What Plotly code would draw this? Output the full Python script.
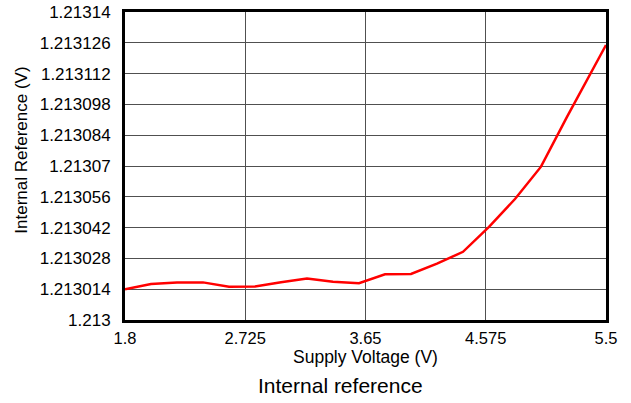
import plotly.graph_objects as go

# datos
supply_v = [1.8, 2.0, 2.2, 2.4, 2.6, 2.8, 3.0, 3.2, 3.4, 3.6, 3.8, 4.0,
            4.2, 4.4, 4.6, 4.8, 5.0, 5.2, 5.5]
int_ref = [1.2130140, 1.2130164, 1.2130171, 1.2130171, 1.2130151, 1.2130152,
           1.2130172, 1.2130189, 1.2130174, 1.2130167, 1.2130208, 1.2130209,
           1.2130256, 1.2130310, 1.2130423, 1.2130550, 1.2130697, 1.2130923,
           1.2131250]

x_ticks = [1.8, 2.725, 3.65, 4.575, 5.5]
x_labels = ["1.8", "2.725", "3.65", "4.575", "5.5"]
y_ticks = [1.213, 1.213014, 1.213028, 1.213042, 1.213056, 1.21307,
           1.213084, 1.213098, 1.213112, 1.213126, 1.21314]
y_labels = ["1.213", "1.213014", "1.213028", "1.213042", "1.213056", "1.21307",
            "1.213084", "1.213098", "1.213112", "1.213126", "1.21314"]

FONT = "Liberation Sans, Arial, sans-serif"

fig = go.Figure()

fig.add_trace(go.Scatter(
    x=supply_v,
    y=int_ref,
    mode="lines",
    line=dict(color="#ff0000", width=2.5),
    showlegend=False,
))

fig.update_layout(
    width=631,
    height=403,
    margin=dict(l=125, r=25, t=12, b=83, autoexpand=False),
    plot_bgcolor="white",
    paper_bgcolor="white",
    font=dict(family=FONT, color="black"),
    xaxis=dict(
        range=[1.8, 5.5],
        tickvals=x_ticks,
        ticktext=x_labels,
        tickfont=dict(size=16.5),
        showgrid=True,
        gridcolor="#505050",
        gridwidth=1.3,
        zeroline=False,
        showline=True,
        linecolor="black",
        linewidth=3,
        mirror=True,
        ticks="",
        ticklabelstandoff=1,
        ticklabeloverflow="allow",
        automargin=False,
    ),
    yaxis=dict(
        range=[1.213, 1.21314],
        tickvals=y_ticks,
        ticktext=y_labels,
        tickfont=dict(size=17),
        showgrid=True,
        gridcolor="#505050",
        gridwidth=1.3,
        zeroline=False,
        showline=True,
        linecolor="black",
        linewidth=3,
        mirror=True,
        ticks="",
        ticklabelstandoff=8,
        ticklabeloverflow="allow",
        automargin=False,
    ),
    annotations=[
        dict(text="Supply Voltage (V)", xref="paper", yref="paper",
             x=0.5, y=-0.121, showarrow=False, font=dict(size=17.5),
             xanchor="center", yanchor="middle"),
        dict(text="Internal Reference (V)", xref="paper", yref="paper",
             x=-0.214, y=0.55, showarrow=False, textangle=-90,
             font=dict(size=17), xanchor="center", yanchor="middle"),
        dict(text="Internal reference", xref="paper", yref="paper",
             x=0.447, y=-0.214, showarrow=False, font=dict(size=21),
             xanchor="center", yanchor="middle"),
    ],
)

# quitar el margen por defecto del body para que la figura empiece en (0, 0)
fig.write_html("out.html", config={"displayModeBar": False},
               post_script="document.body.style.margin = '0';")
